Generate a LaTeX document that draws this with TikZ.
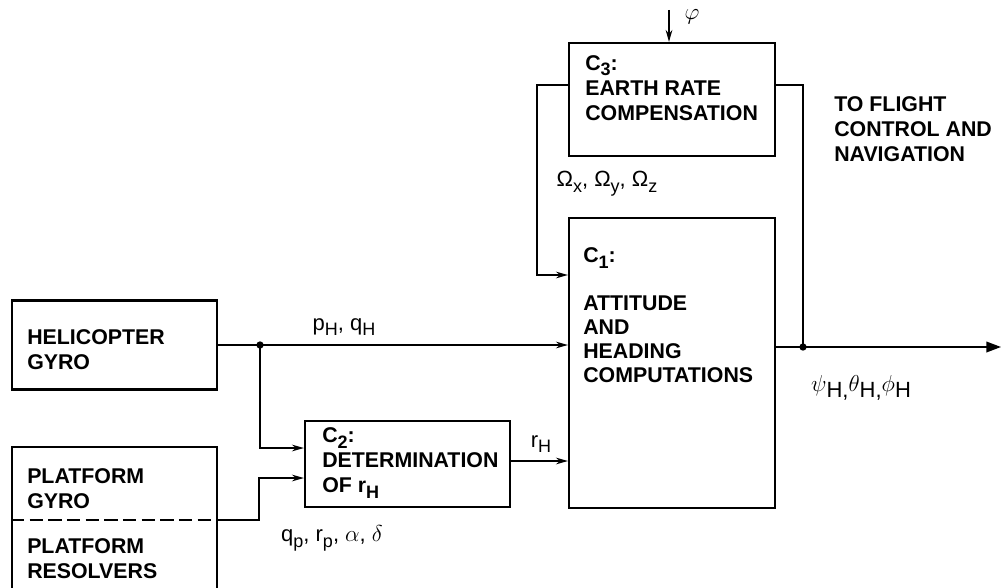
\documentclass[tikz,border=0pt]{standalone}
\usepackage{fontspec}
\setmainfont{Liberation Sans}
\usetikzlibrary{arrows.meta,calc}
\newcommand\lowsub[1]{\raisebox{-0.5ex}{\fontsize{13.5}{13.5}\selectfont #1}}
\newcommand\upgr[1]{\raisebox{5pt}{$#1$}}
\begin{document}
\begin{tikzpicture}[x=0.75pt,y=-0.75pt,
  box/.style={draw,line width=1.6pt,inner sep=0pt,rectangle},
  txt/.style={font=\fontsize{16}{18.75}\selectfont\bfseries,align=left,inner sep=0pt,anchor=west},
  lbl/.style={font=\fontsize{16.5}{18.75}\selectfont,inner sep=0pt},
  wire/.style={line width=1.2pt},
  arr/.style={wire,-{Stealth[length=9pt,width=5pt]}},
  bigarr/.style={wire,-{Triangle[length=11pt,width=8pt]}},
  dot/.style={circle,fill,inner sep=0pt,minimum size=5.5pt}]
\useasboundingbox (0,0) rectangle (1002,588);

% boxes
\node[box,minimum width=153.75pt,minimum height=66.75pt] (heli) at (114.5,345) {};
\node[box,minimum width=153.75pt,minimum height=114.75pt] (plat) at (114.5,523.5) {};
\node[box,minimum width=153.75pt,minimum height=64.5pt] (c2) at (407.5,464) {};
\node[box,minimum width=154.5pt,minimum height=217.5pt] (c1) at (672,363) {};
\node[box,minimum width=154.5pt,minimum height=84.75pt] (c3) at (672,99.5) {};

% box texts
\node[txt] (helit) at (27,349.5) {HELICOPTER\\GYRO};
\node[txt] (pgt) at (27,488.5) {PLATFORM\\GYRO};
\node[txt] (prt) at (27,558.5) {PLATFORM\\RESOLVERS};
\node[txt] (c3t) at (585,88) {C\lowsub{3}:\\EARTH RATE\\COMPENSATION};
\node[txt] (c2t) at (322,463) {C\lowsub{2}:\\DETERMINATION\\OF r\lowsub{H}};
\node[txt] (c1l) at (583,258) {C\lowsub{1}:};
\node[txt,font=\fontsize{16}{18}\selectfont\bfseries] (c1t) at (583,339) {ATTITUDE\\AND\\HEADING\\COMPUTATIONS};
\node[txt] (flt) at (834,129) {TO FLIGHT\\CONTROL AND\\NAVIGATION};

% platform divider
\coordinate (pgout) at ($(plat.east)+(0,-3.5)$);
\draw[line width=1.6pt,dash pattern=on 10pt off 4pt] (plat.west |- pgout) -- (pgout);

% connectors
\node[dot] (jH) at (260,345) {};
\draw[arr] (heli.east) -- (heli.east -| c1.west);
\draw[arr] (jH.center) |- ($(c2.west)+(0,-16)$);
\draw[arr] (pgout) -- ++(41,0) |- ($(c2.west)+(0,14)$);
\coordinate (c2o) at ($(c2.east)+(0,-3)$);
\draw[arr] (c2o) -- (c2o -| c1.west);

\coordinate (c3l) at ($(c3.west)+(0,-14.5)$);
\coordinate (c3r) at ($(c3.east)+(0,-14.5)$);
\coordinate (fbin) at ($(c1.west)+(0,-88)$);
\draw[arr] (c3l) -- ++(-31,0) |- (fbin);

\node[dot] (jO) at (803,347) {};
\draw[wire] (c3r) -| (jO.center);
\coordinate (out) at (1001,347);
\draw[bigarr] (c1.east |- jO) -- (out);

\coordinate (phiin) at (669,10);
\draw[arr] (phiin) -- (phiin |- c3.north);
\node[lbl] (philbl) at (692,17) {$\varphi$};

% signal labels
\node[lbl] (pq) at (344,327) {p\lowsub{H}, q\lowsub{H}};
\node[lbl] (rh) at (541,444) {r\lowsub{H}};
\node[lbl] (qp) at (332,538) {q\lowsub{p}, r\lowsub{p}, $\alpha$, $\delta$};
\node[lbl] (om) at (607,184) {Ω\lowsub{x}, Ω\lowsub{y}, Ω\lowsub{z}};
\node[lbl] (ang) at (861,388) {\upgr{\psi}H,\upgr{\theta}H,\upgr{\phi}H};
\end{tikzpicture}
\end{document}
